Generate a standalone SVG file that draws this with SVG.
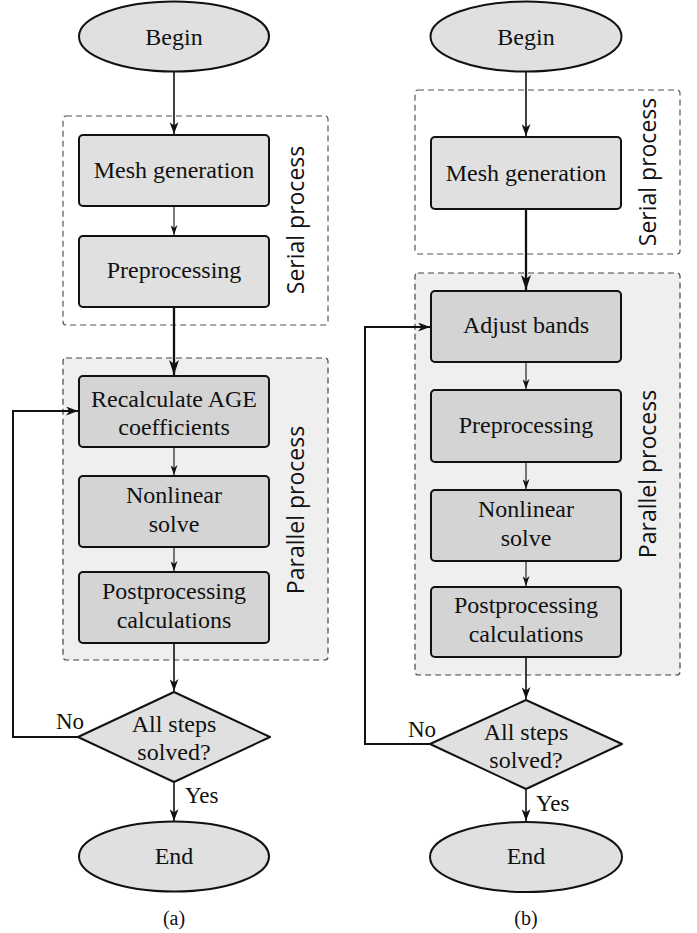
<svg xmlns="http://www.w3.org/2000/svg" width="697" height="933" viewBox="0 0 697 933">
<style>
  .t{font-family:"Liberation Serif","Times New Roman",serif;font-size:24px;fill:#111;text-anchor:middle}
  .lbl{font-family:"Liberation Serif","Times New Roman",serif;font-size:23px;fill:#111}
  .cap{font-family:"Liberation Serif","Times New Roman",serif;font-size:20px;fill:#111;text-anchor:middle}
  .side{font-family:"Open Sans","DejaVu Sans",sans-serif;font-size:23px;fill:#111;text-anchor:middle}
  .light{fill:#e0e0e0;stroke:#111;stroke-width:2}
  .dark{fill:#d4d4d4;stroke:#111;stroke-width:2}
  .serial{fill:none;stroke:#555;stroke-width:1.2;stroke-dasharray:6 4}
  .par{fill:#efefef;stroke:#444;stroke-width:1.2;stroke-dasharray:6 4}
  .c1{fill:none;stroke:#111;stroke-width:1.1;marker-end:url(#hs)}
  .c2{fill:none;stroke:#111;stroke-width:1.6;marker-end:url(#hm)}
  .c3{fill:none;stroke:#111;stroke-width:2.3;marker-end:url(#hl)}
  .loop{fill:none;stroke:#111;stroke-width:2;marker-end:url(#hm)}
  .plain{fill:none;stroke:#111;stroke-width:1.6}
</style>
<defs>
  <marker id="hs" markerUnits="userSpaceOnUse" viewBox="0 0 10 7" refX="10" refY="3.5" markerWidth="10" markerHeight="7" orient="auto">
    <path d="M0,0 L10,3.5 L0,7 L3,3.5 z" fill="#111"/>
  </marker>
  <marker id="hm" markerUnits="userSpaceOnUse" viewBox="0 0 12 9" refX="12" refY="4.5" markerWidth="12" markerHeight="9" orient="auto">
    <path d="M0,0 L12,4.5 L0,9 L3.5,4.5 z" fill="#111"/>
  </marker>
  <marker id="hl" markerUnits="userSpaceOnUse" viewBox="0 0 15 10" refX="15" refY="5" markerWidth="15" markerHeight="10" orient="auto">
    <path d="M0,0 L15,5 L0,10 L4,5 z" fill="#111"/>
  </marker>
</defs>

<!-- ===== (a) ===== -->
<g id="a-serial-group">
  <rect class="serial" x="63" y="116" width="265" height="209" rx="3"/>
  <text class="side" transform="translate(304,220) rotate(-90)">Serial process</text>
</g>
<g id="a-parallel-group">
  <rect class="par" x="63" y="358" width="265" height="302" rx="3"/>
  <text class="side" transform="translate(304,510) rotate(-90)">Parallel process</text>
</g>

<g id="a-begin">
  <ellipse class="light" cx="174" cy="36.5" rx="95" ry="35"/>
  <text class="t" x="174" y="45">Begin</text>
</g>
<g id="a-mesh">
  <rect class="light" x="79" y="135" width="190" height="71" rx="4"/>
  <text class="t" x="174" y="178">Mesh generation</text>
</g>
<g id="a-pre">
  <rect class="light" x="79" y="236" width="190" height="71" rx="4"/>
  <text class="t" x="174" y="278">Preprocessing</text>
</g>
<g id="a-recalc">
  <rect class="dark" x="79" y="376" width="190" height="71" rx="4"/>
  <text class="t" x="174" y="407">Recalculate AGE</text>
  <text class="t" x="174" y="435">coefficients</text>
</g>
<g id="a-nonlin">
  <rect class="dark" x="79" y="476" width="190" height="71" rx="4"/>
  <text class="t" x="174" y="503">Nonlinear</text>
  <text class="t" x="174" y="532">solve</text>
</g>
<g id="a-post">
  <rect class="dark" x="79" y="572" width="190" height="71" rx="4"/>
  <text class="t" x="174" y="599">Postprocessing</text>
  <text class="t" x="174" y="628">calculations</text>
</g>
<g id="a-decision">
  <polygon class="light" points="174,692 270,737 174,782 78,737" stroke-linejoin="round"/>
  <text class="t" x="174" y="732">All steps</text>
  <text class="t" x="174" y="760">solved?</text>
</g>
<g id="a-end">
  <ellipse class="light" cx="174" cy="856.5" rx="95" ry="35"/>
  <text class="t" x="174" y="864">End</text>
</g>
<text class="cap" x="174" y="925">(a)</text>

<!-- ===== (b) ===== -->
<g id="b-serial-group">
  <rect class="serial" x="415" y="90" width="265" height="164" rx="3"/>
  <text class="side" transform="translate(656,172) rotate(-90)">Serial process</text>
</g>
<g id="b-parallel-group">
  <rect class="par" x="415" y="273" width="265" height="402" rx="3"/>
  <text class="side" transform="translate(656,474) rotate(-90)">Parallel process</text>
</g>

<g id="b-begin">
  <ellipse class="light" cx="526" cy="36.5" rx="95.5" ry="35"/>
  <text class="t" x="526" y="45">Begin</text>
</g>
<g id="b-mesh">
  <rect class="light" x="431" y="137" width="190" height="72" rx="4"/>
  <text class="t" x="526" y="181">Mesh generation</text>
</g>
<g id="b-adjust">
  <rect class="dark" x="431" y="291" width="190" height="71" rx="4"/>
  <text class="t" x="526" y="333">Adjust bands</text>
</g>
<g id="b-pre">
  <rect class="dark" x="431" y="390" width="190" height="72" rx="4"/>
  <text class="t" x="526" y="433">Preprocessing</text>
</g>
<g id="b-nonlin">
  <rect class="dark" x="431" y="490" width="190" height="71" rx="4"/>
  <text class="t" x="526" y="517">Nonlinear</text>
  <text class="t" x="526" y="546">solve</text>
</g>
<g id="b-post">
  <rect class="dark" x="431" y="587" width="190" height="70" rx="4"/>
  <text class="t" x="526" y="613">Postprocessing</text>
  <text class="t" x="526" y="642">calculations</text>
</g>
<g id="b-decision">
  <polygon class="light" points="526,700 622,744 526,789 430,744" stroke-linejoin="round"/>
  <text class="t" x="526" y="740">All steps</text>
  <text class="t" x="526" y="768">solved?</text>
</g>
<g id="b-end">
  <ellipse class="light" cx="526" cy="857" rx="96" ry="35"/>
  <text class="t" x="526" y="864">End</text>
</g>
<text class="cap" x="526" y="925">(b)</text>

<!-- ===== connectors ===== -->
<g id="connectors">
  <line class="c2" x1="174" y1="72" x2="174" y2="134"/>
  <line class="c1" x1="174" y1="207" x2="174" y2="235"/>
  <line class="c3" x1="174" y1="308" x2="174" y2="375"/>
  <line class="c1" x1="174" y1="448" x2="174" y2="475"/>
  <line class="c1" x1="174" y1="548" x2="174" y2="571"/>
  <line class="c2" x1="174" y1="644" x2="174" y2="691"/>
  <line class="c2" x1="174" y1="783" x2="174" y2="821"/>
  <polyline class="loop" points="78,737 13,737 13,411 78,411"/>
  <text class="lbl" x="84" y="729" text-anchor="end">No</text>
  <text class="lbl" x="185" y="803">Yes</text>

  <line class="c2" x1="526" y1="72" x2="526" y2="136"/>
  <line class="c3" x1="526" y1="210" x2="526" y2="290"/>
  <line class="c1" x1="526" y1="363" x2="526" y2="389"/>
  <line class="c1" x1="526" y1="463" x2="526" y2="489"/>
  <line class="c1" x1="526" y1="562" x2="526" y2="586"/>
  <line class="c2" x1="526" y1="658" x2="526" y2="699"/>
  <line class="c2" x1="526" y1="790" x2="526" y2="821"/>
  <polyline class="loop" points="430,744 365,744 365,327 430,327"/>
  <text class="lbl" x="436" y="737" text-anchor="end">No</text>
  <text class="lbl" x="536" y="811">Yes</text>
</g>
</svg>
